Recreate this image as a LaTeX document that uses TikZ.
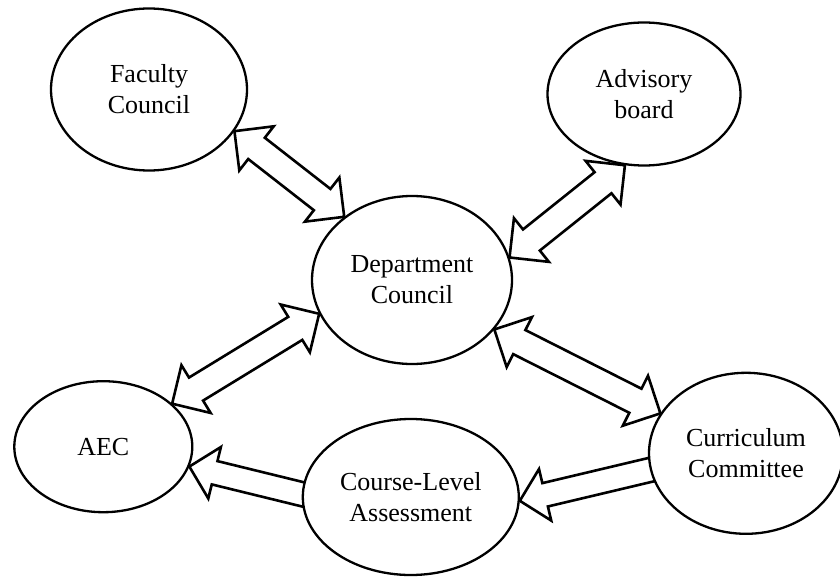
\documentclass[tikz,border=0pt]{standalone}
\usepackage{fontspec}
\setmainfont{Liberation Serif}
\usetikzlibrary{calc,shapes.geometric}
\pgfdeclarelayer{paper}
\pgfdeclarelayer{links}
\pgfsetlayers{paper,links,main}

\tikzset{
  body/.style={ellipse, draw, line width=2.3pt, fill=white, inner sep=0pt,
    align=center, font=\fontsize{26}{31}\selectfont},
  blockarrow/.style={draw, fill=white, line width=2.6pt, line join=miter},
}

% hollow block arrow with a head at both ends (#1 and #2 are the tips)
\newcommand\twowayarrow[2]{%
  \draw[blockarrow] (#1)
    -- ($(#1)!28pt!(#2)!28pt!90:(#2)$)
    -- ($(#1)!28pt!(#2)!13.5pt!90:(#2)$)
    -- ($(#2)!28pt!(#1)!13.5pt!-90:(#1)$)
    -- ($(#2)!28pt!(#1)!28pt!-90:(#1)$)
    -- (#2)
    -- ($(#2)!28pt!(#1)!28pt!90:(#1)$)
    -- ($(#2)!28pt!(#1)!13.5pt!90:(#1)$)
    -- ($(#1)!28pt!(#2)!13.5pt!-90:(#2)$)
    -- ($(#1)!28pt!(#2)!28pt!-90:(#2)$)
    -- cycle;}

% hollow block arrow from the tail #1 to the tip #2
\newcommand\onewayarrow[2]{%
  \draw[blockarrow] (#2)
    -- ($(#2)!26pt!(#1)!26.5pt!90:(#1)$)
    -- ($(#2)!26pt!(#1)!12pt!90:(#1)$)
    -- ($(#1)!12pt!-90:(#2)$)
    -- ($(#1)!12pt!90:(#2)$)
    -- ($(#2)!26pt!(#1)!12pt!-90:(#1)$)
    -- ($(#2)!26pt!(#1)!26.5pt!-90:(#1)$)
    -- cycle;}

\begin{document}
\begin{tikzpicture}[x=1pt,y=-1pt]
\useasboundingbox (0,0) rectangle (840,580);
\clip (0,0) rectangle (840,580);
\begin{pgfonlayer}{paper}
  \fill[white] (0,0) rectangle (840,580);
\end{pgfonlayer}

\node[body, minimum width=196pt, minimum height=162pt] (fc) at (149,89.5) {Faculty\\Council};
\node[body, minimum width=193pt, minimum height=143pt] (ab) at (644,94) {Advisory\\board};
\node[body, minimum width=200pt, minimum height=168pt] (dc) at (412,280) {Department\\Council};
\node[body, minimum width=178pt, minimum height=131pt] (aec) at (103.3,446.7) {AEC};
\node[body, minimum width=216pt, minimum height=156pt] (cl) at (410.8,497) {Course-Level\\Assessment};
\node[body, minimum width=194pt, minimum height=161pt] (cc) at (746,453.3) {Curriculum\\Committee};

\begin{pgfonlayer}{links}
  \twowayarrow{fc.-26.6}{dc.137.4}
  \twowayarrow{dc.13.5}{ab.-105}
  \twowayarrow{dc.200.6}{aec.32.4}
  \twowayarrow{dc.-31.3}{cc.155.8}
  \coordinate (t5) at ([xshift=12pt]cl.west);
  \onewayarrow{t5}{aec.-13.4}
  \coordinate (t6) at ([shift={(9pt,-15pt)}]cc.west);
  \onewayarrow{t6}{cl.-2}
\end{pgfonlayer}
\end{tikzpicture}
\end{document}
